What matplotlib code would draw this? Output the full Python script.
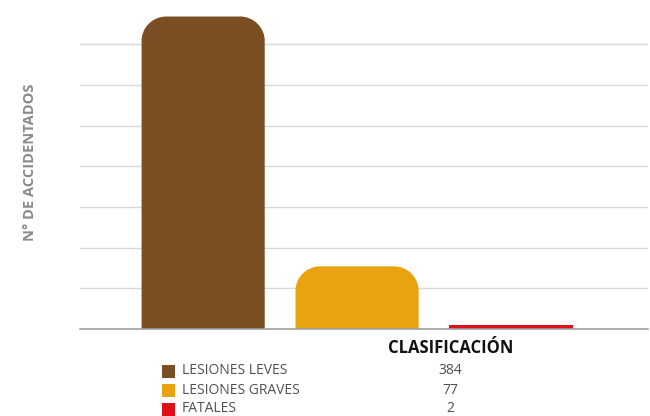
import matplotlib.pyplot as plt
import numpy as np
from matplotlib.path import Path
from matplotlib.patches import PathPatch, Rectangle

categorias = ['LESIONES LEVES', 'LESIONES GRAVES', 'FATALES']
valores = [384, 77, 2]
colores = ['#7B4F24', '#EAA310', '#E0101A']
ticks_y = [50, 100, 150, 200, 250, 300, 350]

plt.rcParams['font.family'] = ['Open Sans', 'DejaVu Sans']

fig = plt.figure(figsize=(6.5, 4.16), dpi=100)
ax = fig.add_axes([80/650, 87/416, 568/650, 319/416])

x = np.arange(len(valores))
bars = ax.bar(x, valores, width=0.8, color=colores, zorder=3)
ax.set_xlim(-0.8, 2.89)
ax.set_ylim(0, 392)

# esquinas superiores redondeadas
rx, ry = 0.16, 30
for b in bars:
    x0, w, h = b.get_x(), b.get_width(), b.get_height()
    c = b.get_facecolor()
    if h > 2 * ry:
        k = 0.55
        verts = [(x0, 0), (x0, h - ry),
                 (x0, h - ry + k*ry), (x0 + rx - k*rx, h), (x0 + rx, h),
                 (x0 + w - rx, h),
                 (x0 + w - rx + k*rx, h), (x0 + w, h - ry + k*ry), (x0 + w, h - ry),
                 (x0 + w, 0), (x0, 0)]
        codes = [Path.MOVETO, Path.LINETO,
                 Path.CURVE4, Path.CURVE4, Path.CURVE4,
                 Path.LINETO,
                 Path.CURVE4, Path.CURVE4, Path.CURVE4,
                 Path.LINETO, Path.CLOSEPOLY]
        b.set_visible(False)
        ax.add_patch(PathPatch(Path(verts, codes), facecolor=c, edgecolor='none', zorder=3))
    else:
        b.set_height(max(h, 5))

ax.set_yticks(ticks_y)
ax.yaxis.grid(True, color='#d9d9d9', linewidth=1, zorder=0)
ax.tick_params(left=False, bottom=False, labelleft=False, labelbottom=False)
for s in ['top', 'right', 'left']:
    ax.spines[s].set_visible(False)
ax.spines['bottom'].set_color('#a0a0a0')
ax.spines['bottom'].set_linewidth(1.2)
ax.spines['bottom'].set_zorder(4)

fig.text(30/650, 1 - 162/416, 'N° DE ACCIDENTADOS', rotation=90, ha='center', va='center',
         fontsize=10.5, fontweight='bold', color='#8a8a8a')

fig.text(451/650, 1 - 348/416, 'CLASIFICACIÓN', ha='center', va='center',
         fontsize=12, fontweight='bold', color='#111111')

filas_y = [371, 390, 409]
for cat, val, col, yy in zip(categorias, valores, colores, filas_y):
    fig.patches.append(Rectangle((162/650, 1 - (yy + 6.5)/416), 13/650, 13/416,
                                 transform=fig.transFigure, facecolor=col, edgecolor='none'))
    fig.text(182/650, 1 - yy/416, cat, ha='left', va='center', fontsize=10, color='#505050')
    fig.text(450/650, 1 - yy/416, str(val), ha='center', va='center', fontsize=10, color='#505050')

fig.savefig('out.png', dpi=100)
